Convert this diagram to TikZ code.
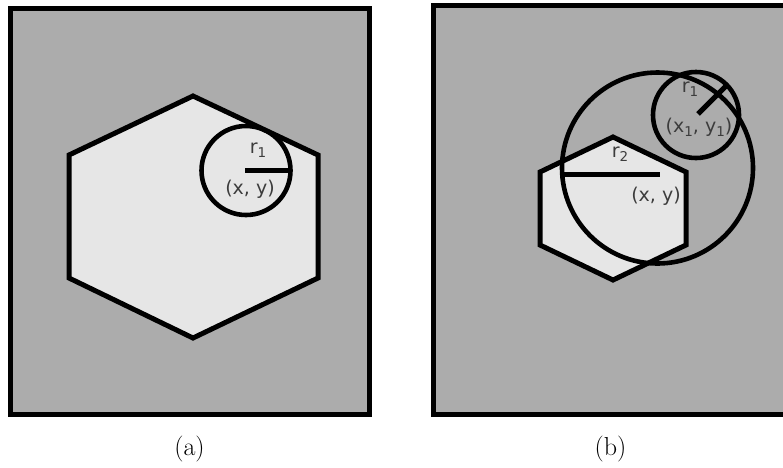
\documentclass[tikz,border=0pt]{standalone}
\usepackage{fontspec}
\newfontfamily\labfont{DejaVu Sans}
\definecolor{bggray}{RGB}{172,172,172}
\definecolor{hexfill}{RGB}{230,230,230}
\definecolor{txtgray}{RGB}{60,60,60}
\newcommand{\sbs}[1]{\raisebox{-0.2em}{\fontsize{13.5}{14}\selectfont #1}}
\begin{document}
\begin{tikzpicture}[x=1pt,y=-1pt,
  frame/.style={line width=5pt,draw=black},
  hexa/.style={line width=5pt,draw=black,fill=hexfill,line join=miter},
  ring/.style={line width=4.6pt,draw=black},
  rad/.style={line width=5pt,draw=black},
  lab/.style={inner sep=0pt,text=txtgray,font=\labfont\fontsize{19}{21}\selectfont},
  captxt/.style={inner sep=0pt,font=\fontsize{26}{30}\selectfont}]
\useasboundingbox (0,0) rectangle (783,467);
% ---------- panel (a) ----------
\fill[bggray] (10.5,8.5) rectangle (369.5,414.5);
\draw[frame] (10.5,8.5) rectangle (369.5,414.5);
\draw[hexa] (193,96) -- (318,155) -- (318,278) -- (193,338) -- (69,278) -- (69,155) -- cycle;
\coordinate (ca) at (246,170.5);
\coordinate (cae) at (290,170);
\draw[ring] (ca) circle[radius=44.5];
\draw[rad] (245,170) -- (cae);
\node[lab] (ra) at (258,150) {r\sbs{1}};
\node[lab] (xya) at (250,189) {(x, y)};
\node[captxt] (capa) at (189.5,449) {(a)};
% ---------- panel (b) ----------
\begin{scope}
\clip (0,0) rectangle (783,467);
\fill[bggray] (433,5) rectangle (790,414);
\draw[frame] (790,5) -- (433,5) -- (433,414) -- (790,414);
\end{scope}
\draw[hexa] (613,137) -- (686,172) -- (686,245) -- (613,280) -- (540,245) -- (540,172) -- cycle;
\coordinate (cb) at (657.5,168);
\coordinate (cbl) at (563,174);
\coordinate (cbc) at (660,174);
\draw[ring] (cb) ellipse[x radius=95.5, y radius=95.5];
\draw[rad] (cbl) -- (cbc);
\coordinate (cs) at (696,115);
\coordinate (cse) at (728,84);
\draw[ring] (cs) circle[radius=43];
\draw[rad] (698,114) -- (cse);
\node[lab] (rb1) at (690,89) {r\sbs{1}};
\node[lab] (xyb1) at (699,127) {(x\sbs{1}, y\sbs{1})};
\node[lab] (rb2) at (620,154) {r\sbs{2}};
\node[lab] (xyb) at (656,196) {(x, y)};
\node[captxt] (capb) at (610.5,449) {(b)};
\end{tikzpicture}
\end{document}
